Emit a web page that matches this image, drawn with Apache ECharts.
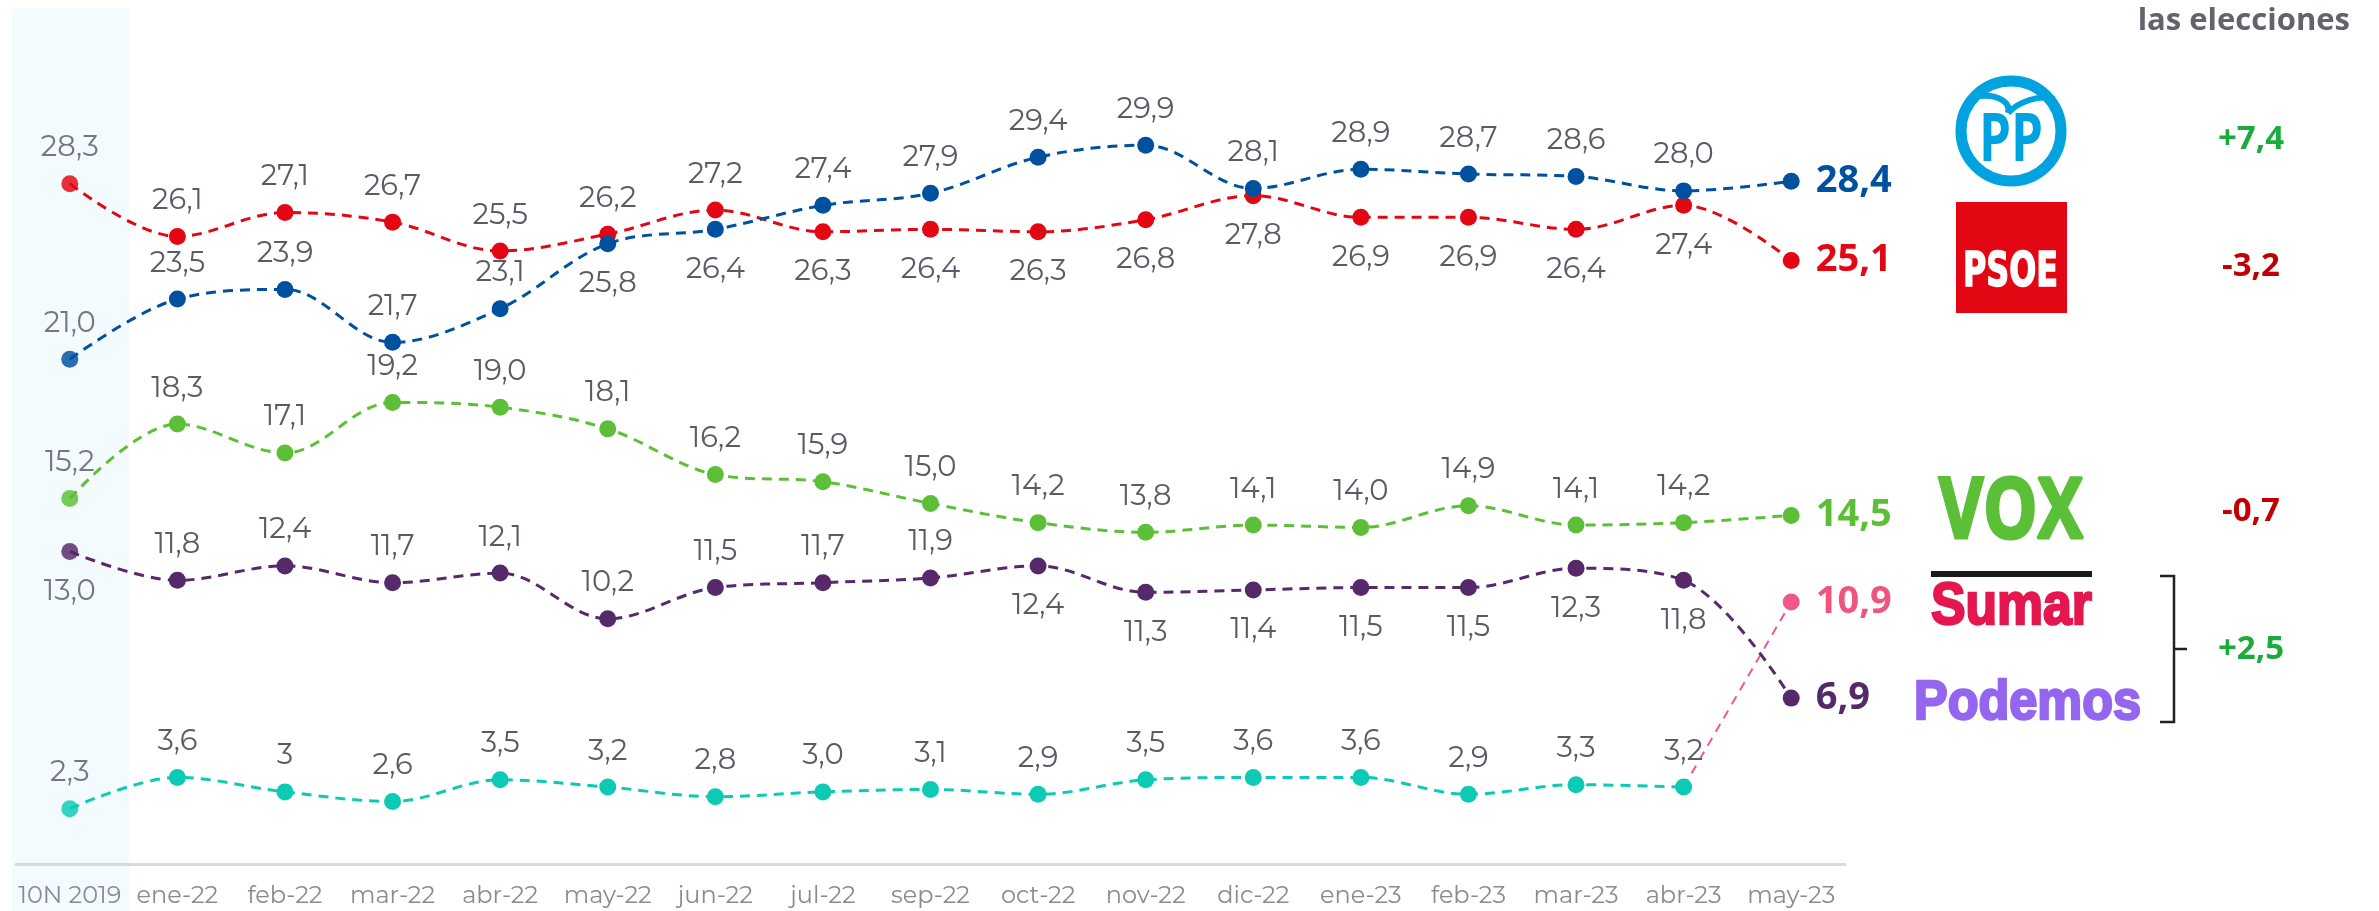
<!DOCTYPE html>
<html><head><meta charset="utf-8">
<script src="https://cdn.jsdelivr.net/npm/echarts@6/dist/echarts.min.js"></script>
<style>html,body{margin:0;padding:0;background:#fff}#c{width:2379px;height:911px}</style>
</head><body><div id="c"></div><script>
// ---- data ----
const categories = ['10N 2019','ene-22','feb-22','mar-22','abr-22','may-22','jun-22','jul-22','sep-22','oct-22','nov-22','dic-22','ene-23','feb-23','mar-23','abr-23','may-23'];
const psoeValues = [28.3,26.1,27.1,26.7,25.5,26.2,27.2,26.3,26.4,26.3,26.8,27.8,26.9,26.9,26.4,27.4,25.1];
const ppValues = [21.0,23.5,23.9,21.7,23.1,25.8,26.4,27.4,27.9,29.4,29.9,28.1,28.9,28.7,28.6,28.0,28.4];
const voxValues = [15.2,18.3,17.1,19.2,19.0,18.1,16.2,15.9,15.0,14.2,13.8,14.1,14.0,14.9,14.1,14.2,14.5];
const podemosValues = [13.0,11.8,12.4,11.7,12.1,10.2,11.5,11.7,11.9,12.4,11.3,11.4,11.5,11.5,12.3,11.8,6.9];
const masPaisValues = ['2.3','3.6','3','2.6','3.5','3.2','2.8','3.0','3.1','2.9','3.5','3.6','3.6','2.9','3.3','3.2'];
const sumarValue = 10.9;
const diffLabels = ['+7,4','-3,2','-0,7','+2,5'];

// label sides (t = above, b = below)
const psoeSide = ['t','t','t','t','t','t','t','b','b','b','b','b','b','b','b','b'];
const ppSide   = ['t','t','t','t','t','b','b','t','t','t','t','t','t','t','t','t'];
const voxSide  = ['t','t','t','t','t','t','t','t','t','t','t','t','t','t','t','t'];
const podSide  = ['b','t','t','t','t','t','t','t','t','b','b','b','b','b','b','b'];
const mpSide   = ['t','t','t','t','t','t','t','t','t','t','t','t','t','t','t','t'];

const FONT = "'Montserrat','Open Sans',sans-serif";
const labelGrey = '#5b5a66';

function fmt(v){ return (typeof v === 'string' ? v : v.toFixed(1)).replace('.', ','); }

function buildData(values, sides, color, lastBold){
  return values.map((v, i) => {
    const num = Number(v);
    const item = { value: num };
    if (i === 0) item.itemStyle = { opacity: 0.83 };
    if (lastBold && i === values.length - 1) {
      item.label = { show: true, position: 'right', distance: 16, formatter: fmt(v),
        fontSize: 38, fontWeight: 'bold', color: color, fontFamily: "'Open Sans',sans-serif" };
    } else {
      const s = sides[i];
      item.label = { show: true, position: s === 't' ? 'top' : 'bottom', distance: s === 't' ? 13 : 17,
        formatter: fmt(v) };
    }
    return item;
  });
}

function lineSeries(name, data, color, z){
  return {
    name, type: 'line', data, smooth: 0.35, symbol: 'circle', symbolSize: 17, z: z,
    itemStyle: { color }, lineStyle: { color, width: 3, type: [10, 7] },
    label: { fontSize: 29, color: labelGrey, fontFamily: FONT },
    emphasis: { disabled: true }
  };
}

const sumarData = categories.map((c, i) => {
  if (i === 15) return { value: Number(masPaisValues[15]), symbolSize: 0, label: { show: false } };
  if (i === 16) return { value: sumarValue, label: { show: true, position: 'right', distance: 16, formatter: fmt(sumarValue),
      fontSize: 38, fontWeight: 'bold', color: '#f0557f', fontFamily: "'Open Sans',sans-serif" } };
  return null;
});

const series = [
  lineSeries('Más País', buildData(masPaisValues, mpSide, '#0ccab4', false), '#0ccab4', 2),
  Object.assign(lineSeries('Sumar', sumarData, '#f0578a', 2), { lineStyle: { color: '#f0578a', width: 2, type: [9, 7] }, connectNulls: false }),
  lineSeries('Podemos', buildData(podemosValues, podSide, '#522a66', true), '#56296a', 3),
  lineSeries('Vox', buildData(voxValues, voxSide, '#5dbf37', true), '#5dbf37', 3),
  lineSeries('PSOE', buildData(psoeValues, psoeSide, '#e30613', true), '#e30613', 4),
  lineSeries('PP', buildData(ppValues, ppSide, '#0050a0', true), '#0050a0', 5)
];

// text fitting helper for logo-like texts
const mctx = document.createElement('canvas').getContext('2d');
function fitScale(text, weight, size, family, width){
  mctx.font = weight + ' ' + size + 'px ' + family;
  return width / mctx.measureText(text).width;
}
function logoText(text, left, cy, size, width, fill, family, align, thick){
  family = family || "'Open Sans',sans-serif";
  const s = fitScale(text, 'bold', size, family, width);
  const style = { text, fontSize: size, fontWeight: 'bold', fontFamily: family, fill,
      textAlign: align || 'left', textVerticalAlign: 'middle' };
  if (thick) { style.stroke = fill; style.lineWidth = thick; }
  return { type: 'text', x: left, y: cy, scaleX: s, z: 10, style };
}
function diffText(text, y, fill){
  return { type: 'text', x: 2251, y: y, z: 10, style: { text, fontSize: 33, fontWeight: 'bold',
    fontFamily: "'Open Sans',sans-serif", fill, textAlign: 'center', textVerticalAlign: 'middle' } };
}

const HEAVY = "'Liberation Sans','Arimo',sans-serif";
const graphic = [
  { type: 'rect', z: 0, shape: { x: 12, y: 9, width: 117, height: 902 }, style: { fill: '#f3fbff' } },
  { type: 'text', x: 2350, y: 21, z: 10, style: { text: 'las elecciones', fontSize: 31, fontWeight: 'bold',
      fontFamily: "'Open Sans',sans-serif", fill: '#63636f', textAlign: 'right', textVerticalAlign: 'middle' } },
  // PP logo
  { type: 'circle', z: 10, shape: { cx: 2011, cy: 131, r: 50 }, style: { fill: 'none', stroke: '#00a3e0', lineWidth: 11 } },
  { type: 'bezierCurve', z: 10, shape: { x1: 1980, y1: 96, cpx1: 1999, cpy1: 94, cpx2: 2011, cpy2: 103, x2: 2008, y2: 113 },
    style: { fill: 'none', stroke: '#00a3e0', lineWidth: 6 } },
  { type: 'bezierCurve', z: 10, shape: { x1: 2008, y1: 113, cpx1: 2018, cpy1: 102, cpx2: 2040, cpy2: 94, x2: 2054, y2: 99 },
    style: { fill: 'none', stroke: '#00a3e0', lineWidth: 6 } },
  logoText('PP', 2011, 142, 66, 64, '#00a3e0', null, 'center'),
  // PSOE logo
  { type: 'rect', z: 10, shape: { x: 1956, y: 202, width: 111, height: 111 }, style: { fill: '#e30613' } },
  logoText('PSOE', 1963, 274, 48, 95, '#ffffff', "'DejaVu Sans Condensed','DejaVu Sans',sans-serif", null, 1.5),
  // VOX
  logoText('VOX', 1939, 514, 84, 144, '#5cbf38', null, null, 3),
  // Sumar
  { type: 'rect', z: 10, shape: { x: 1931, y: 571, width: 161, height: 6 }, style: { fill: '#1b1b1b' } },
  logoText('Sumar', 1931, 607, 60, 161, '#e5174f', HEAVY, null, 2.5),
  // Podemos
  logoText('Podemos', 1914, 704, 55, 227, '#9466f0', HEAVY, null, 2.5),
  // bracket
  { type: 'polyline', z: 10, shape: { points: [[2160,576],[2174,576],[2174,722],[2160,722]] },
    style: { fill: 'none', stroke: '#222222', lineWidth: 2.5 } },
  { type: 'line', z: 10, shape: { x1: 2174, y1: 649, x2: 2187, y2: 649 }, style: { stroke: '#222222', lineWidth: 2.5 } },
  // differences
  diffText(diffLabels[0], 140, '#1aab3c'),
  diffText(diffLabels[1], 267, '#c00000'),
  diffText(diffLabels[2], 512, '#c00000'),
  diffText(diffLabels[3], 650, '#1aab3c')
];

const chart = echarts.init(document.getElementById('c'), null, { renderer: 'canvas' });
chart.setOption({
  animation: false,
  backgroundColor: '#ffffff',
  grid: { left: 16, right: 534, top: 22.6, bottom: 44, containLabel: false },
  xAxis: {
    type: 'category', data: categories, boundaryGap: true,
    axisLine: { lineStyle: { color: '#d9d9df', width: 3 } },
    axisTick: { show: false },
    axisLabel: { fontSize: 24, color: '#8a8995', fontFamily: FONT, margin: 17, interval: 0 },
    splitLine: { show: false }
  },
  yAxis: { type: 'value', min: -0.125, max: 35, show: false, splitLine: { show: false } },
  graphic,
  series
});
</script></body></html>
